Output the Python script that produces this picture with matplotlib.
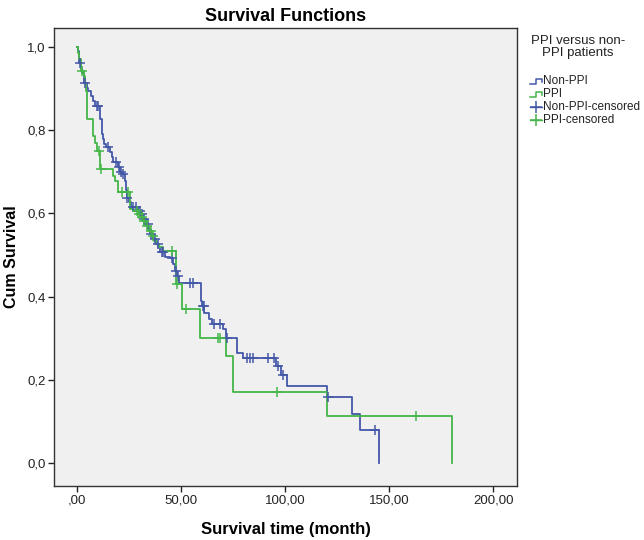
import numpy as np
import matplotlib
matplotlib.use("Agg")
import matplotlib.pyplot as plt
from matplotlib.lines import Line2D

plt.rcParams["font.family"] = ["Liberation Sans", "DejaVu Sans"]

# Kaplan-Meier step points (time, survival after the event)
non_ppi_time = [0, 0.3, 0.6, 1.0, 1.8, 2.5, 3.0, 3.4, 4.5, 5.3, 6.5, 7.5, 8.5,
                10.9, 11.7, 12.2, 13.0, 14.0, 15.5, 16.5, 17.3, 19.5, 20.5, 21.5,
                23.0, 23.4, 23.7, 25.0, 26.0, 29.0, 30.5, 31.7, 33.0, 34.0, 35.0,
                36.5, 38.0, 39.0, 40.0, 42.2, 44.5, 46.2, 47.0, 48.0, 48.8, 59.5,
                60.0, 61.0, 63.5, 65.0, 70.2, 71.5, 76.6, 79.5, 95.5, 98.0, 101.0,
                120.0, 132.0, 136.0, 145.0]
non_ppi_surv = [1.0, 0.99, 0.975, 0.962, 0.95, 0.938, 0.926, 0.914, 0.902, 0.894,
                0.882, 0.870, 0.858, 0.826, 0.790, 0.778, 0.766, 0.758, 0.746,
                0.734, 0.722, 0.710, 0.700, 0.694, 0.678, 0.655, 0.637, 0.626,
                0.614, 0.606, 0.598, 0.586, 0.574, 0.562, 0.550, 0.538, 0.526,
                0.518, 0.506, 0.496, 0.492, 0.478, 0.462, 0.450, 0.433, 0.390,
                0.378, 0.360, 0.345, 0.333, 0.321, 0.301, 0.265, 0.253, 0.233,
                0.211, 0.185, 0.158, 0.117, 0.079, 0.0]
non_ppi_censor = [1.2, 3.7, 9.3, 9.9, 14.6, 18.5, 20.0, 21.0, 22.0, 24.0, 26.9,
                  28.0, 30.0, 31.0, 32.3, 33.8, 35.5, 37.5, 38.6, 40.5, 41.2, 45.6,
                  47.5, 48.4, 54.3, 55.5, 60.2, 60.8, 65.5, 68.5, 72.0, 81.4, 83.0,
                  84.6, 91.8, 94.5, 96.5, 98.8, 120.5, 143.3]

ppi_time = [0, 0.5, 1.0, 1.6, 2.0, 3.0, 3.8, 4.2, 4.5, 7.7, 8.5, 9.3, 11.1, 17.3,
            18.0, 19.6, 25.3, 27.5, 29.0, 30.5, 31.5, 33.0, 34.5, 36.0, 37.0,
            38.2, 39.5, 41.3, 47.5, 50.2, 58.8, 71.5, 75.0, 120.0, 180.0]
ppi_surv = [1.0, 0.985, 0.97, 0.955, 0.942, 0.93, 0.91, 0.894, 0.826, 0.786, 0.77,
            0.75, 0.706, 0.69, 0.678, 0.65, 0.61, 0.606, 0.598, 0.59, 0.582, 0.57,
            0.558, 0.546, 0.534, 0.526, 0.518, 0.51, 0.43, 0.37, 0.301, 0.257,
            0.171, 0.113, 0.0]
ppi_censor = [2.3, 10.6, 11.6, 21.3, 24.5, 28.5, 29.5, 30.9, 32.0, 33.4, 35.5,
              36.5, 45.4, 47.8, 52.5, 67.8, 68.6, 95.9, 162.8]

x_ticks = [0, 50, 100, 150, 200]
x_tick_labels = [",00", "50,00", "100,00", "150,00", "200,00"]
y_ticks = [0.0, 0.2, 0.4, 0.6, 0.8, 1.0]
y_tick_labels = ["0,0", "0,2", "0,4", "0,6", "0,8", "1,0"]

BLUE = "#4458A8"
GREEN = "#45B649"
W, H = 644, 540


def surv_at(times, surv, t):
    idx = np.searchsorted(np.asarray(times), np.asarray(t), side="right") - 1
    return np.asarray(surv)[idx]


fig = plt.figure(figsize=(W / 100, H / 100), dpi=100)
ax = fig.add_axes([54 / W, 1 - 486 / H, (517 - 54) / W, (486 - 28) / H])
ax.set_facecolor("#F0F0F0")

for times, surv, cens, color in [
    (non_ppi_time, non_ppi_surv, non_ppi_censor, BLUE),
    (ppi_time, ppi_surv, ppi_censor, GREEN),
]:
    ax.step(times, surv, where="post", color=color, linewidth=1.3, zorder=3)
    ax.plot(cens, surv_at(times, surv, cens), linestyle="none", marker="+",
            markersize=7, markeredgewidth=1.1, color=color, zorder=4)

ax.set_xlim(-11.2, 211.4)
ax.set_ylim(-0.055, 1.045)
ax.set_xticks(x_ticks)
ax.set_xticklabels(x_tick_labels)
ax.set_yticks(y_ticks)
ax.set_yticklabels(y_tick_labels)
ax.tick_params(direction="out", length=4, width=1, color="#222222",
               labelsize=9.5, labelcolor="#222222", pad=2)
for spine in ax.spines.values():
    spine.set_color("#333333")
    spine.set_linewidth(1.0)

ax.set_title("Survival Functions", fontsize=13, fontweight="bold", pad=5)
ax.set_xlabel("Survival time (month)", fontsize=12, fontweight="bold", labelpad=11)
ax.set_ylabel("Cum Survival", fontsize=11.5, fontweight="bold", labelpad=6)


def fx(px):
    return px / W


def fy(py):
    return 1 - py / H


# legend drawn to the right of the axes
fig.text(fx(578), fy(47), "PPI versus non-\nPPI patients", ha="center", va="center",
         fontsize=9.5, linespacing=1.1, color="#222222")
legend_rows = [("Non-PPI", BLUE, "line"), ("PPI", GREEN, "line"),
               ("Non-PPI-censored", BLUE, "cens"), ("PPI-censored", GREEN, "cens")]
for i, (label, color, kind) in enumerate(legend_rows):
    yc = 81 + i * 13
    if kind == "line":
        xs = [fx(530), fx(536), fx(536), fx(542), fx(542)]
        ys = [fy(yc + 3), fy(yc + 3), fy(yc - 2), fy(yc - 2), fy(yc + 1)]
        fig.add_artist(Line2D(xs, ys, color=color, linewidth=1.1))
    else:
        fig.add_artist(Line2D([fx(530), fx(542)], [fy(yc), fy(yc)], color=color,
                              linewidth=1.0))
        fig.add_artist(Line2D([fx(536)], [fy(yc)], marker="+", markersize=8,
                              markeredgewidth=1.1, color=color))
    fig.text(fx(543), fy(yc), label, ha="left", va="center", fontsize=8.5,
             color="#222222")

fig.savefig("out.png", dpi=100)
